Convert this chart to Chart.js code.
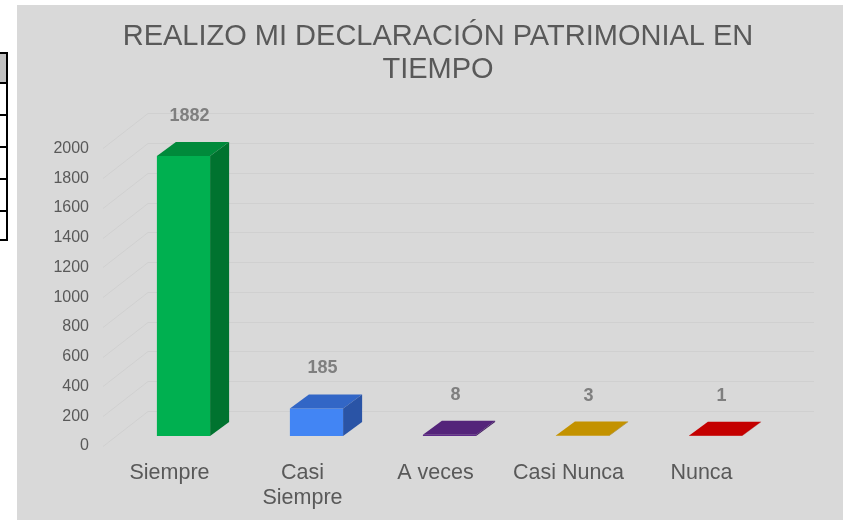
<!DOCTYPE html>
<html lang="es">
<head>
<meta charset="utf-8">
<title>Realizo mi declaración patrimonial en tiempo</title>
<script src="https://cdn.jsdelivr.net/npm/chart.js@4.4.1/dist/chart.umd.min.js"></script>
<style>
    body { margin: 0; background: #ffffff; font-family: Arial, "Liberation Sans", sans-serif; }
    .side-table { position: absolute; left: -60px; top: 52px; border-collapse: collapse; }
    .side-table td { border: 2px solid #000; width: 64px; height: 30px; padding: 0; }
    .side-table tr:first-child td { background: #c0c0c0; height: 28px; }
    .side-table tr:last-child td { height: 27px; }
    .chart-box { position: absolute; left: 17px; top: 5px; width: 826px; height: 515px; background: #d9d9d9; overflow: hidden; }
</style>
</head>
<body>
<table class="side-table">
    <tr><td></td></tr>
    <tr><td></td></tr>
    <tr><td></td></tr>
    <tr><td></td></tr>
    <tr><td></td></tr>
    <tr><td></td></tr>
</table>
<div class="chart-box">
    <canvas id="declChart" width="842" height="515"></canvas>
</div>
<script>
// Data
const categories = ['Siempre', ['Casi', 'Siempre'], 'A veces', 'Casi Nunca', 'Nunca'];
const respuestas = [1882, 185, 8, 3, 1];
const yTicks = [0, 200, 400, 600, 800, 1000, 1200, 1400, 1600, 1800, 2000];

// 3D shading per bar (front, top, side)
const frontColors = ['#00b050', '#4285f4', '#5f2a8a', '#cc9a00', '#d00000'];
const topColors = ['#008a3b', '#3266c6', '#54247a', '#c39200', '#c40000'];
const sideColors = ['#00732f', '#2a54a6', '#431c62', '#9a7400', '#980000'];

const DEPTH_X = 19;
const DEPTH_Y = 14;
const FONT = 'Arial, "Liberation Sans", sans-serif';

// back wall grid: diagonal on the left wall, then flat across
const wallGrid = {
    id: 'wallGrid',
    beforeDatasetsDraw(chart) {
        const { ctx, scales: { y } } = chart;
        ctx.save();
        ctx.strokeStyle = '#d0d0d0';
        ctx.lineWidth = 1;
        yTicks.forEach(v => {
            const py = Math.round(y.getPixelForValue(v)) + 0.5;
            ctx.beginPath();
            ctx.moveTo(86, py + 10);
            ctx.lineTo(131, py - 25);
            ctx.lineTo(797, py - 25);
            ctx.stroke();
        });
        ctx.restore();
    }
};

// top and side faces + value labels
const bars3d = {
    id: 'bars3d',
    afterDatasetsDraw(chart) {
        const { ctx } = chart;
        const meta = chart.getDatasetMeta(0);
        ctx.save();
        meta.data.forEach((bar, i) => {
            const { x, y, base, width } = bar.getProps(['x', 'y', 'base', 'width'], true);
            const l = x - width / 2;
            const r = x + width / 2;

            ctx.fillStyle = topColors[i];
            ctx.beginPath();
            ctx.moveTo(l, y);
            ctx.lineTo(l + DEPTH_X, y - DEPTH_Y);
            ctx.lineTo(r + DEPTH_X, y - DEPTH_Y);
            ctx.lineTo(r, y);
            ctx.closePath();
            ctx.fill();

            ctx.fillStyle = sideColors[i];
            ctx.beginPath();
            ctx.moveTo(r, y);
            ctx.lineTo(r + DEPTH_X, y - DEPTH_Y);
            ctx.lineTo(r + DEPTH_X, base - DEPTH_Y);
            ctx.lineTo(r, base);
            ctx.closePath();
            ctx.fill();

            ctx.fillStyle = '#7f7f7f';
            ctx.font = 'bold 18px ' + FONT;
            ctx.textAlign = 'center';
            ctx.textBaseline = 'middle';
            ctx.fillText(String(respuestas[i]), x + 6, y - 40);
        });
        ctx.restore();
    }
};

const ctx = document.getElementById('declChart').getContext('2d');
new Chart(ctx, {
    type: 'bar',
    data: {
        labels: categories,
        datasets: [{
            data: respuestas,
            backgroundColor: frontColors,
            borderWidth: 0,
            categoryPercentage: 1,
            barPercentage: 0.4
        }]
    },
    options: {
        responsive: false,
        animation: false,
        layout: { padding: 0 },
        plugins: {
            legend: { display: false },
            tooltip: { enabled: false },
            title: {
                display: true,
                text: ['REALIZO MI DECLARACIÓN PATRIMONIAL EN', 'TIEMPO'],
                color: '#595959',
                font: { family: FONT, size: 29, weight: 'normal', lineHeight: '33px' },
                padding: { top: 15.5, bottom: 51.9 }
            }
        },
        scales: {
            x: {
                grid: { display: false, drawTicks: false, tickLength: 0 },
                border: { display: false },
                ticks: {
                    color: '#595959',
                    font: { family: FONT, size: 21.5, lineHeight: '25px' },
                    padding: 24.5,
                    labelOffset: -14,
                    maxRotation: 0,
                    autoSkip: false
                },
                afterFit(scale) { scale.height = 84; }
            },
            y: {
                min: 0,
                max: 2000,
                grid: { display: false, drawTicks: false, tickLength: 0 },
                border: { display: false },
                afterBuildTicks(scale) { scale.ticks = yTicks.map(v => ({ value: v })); },
                ticks: {
                    color: '#595959',
                    font: { family: FONT, size: 16 },
                    padding: 28,
                    labelOffset: 10,
                    callback: value => String(value)
                },
                afterFit(scale) { scale.width = 100; }
            },
            // empty right strip so the plot ends where the reference's does
            yRight: {
                position: 'right',
                grid: { display: false, drawTicks: false },
                border: { display: false },
                ticks: { display: false },
                afterFit(scale) { scale.width = 77; }
            }
        }
    },
    plugins: [wallGrid, bars3d]
});
</script>
</body>
</html>
